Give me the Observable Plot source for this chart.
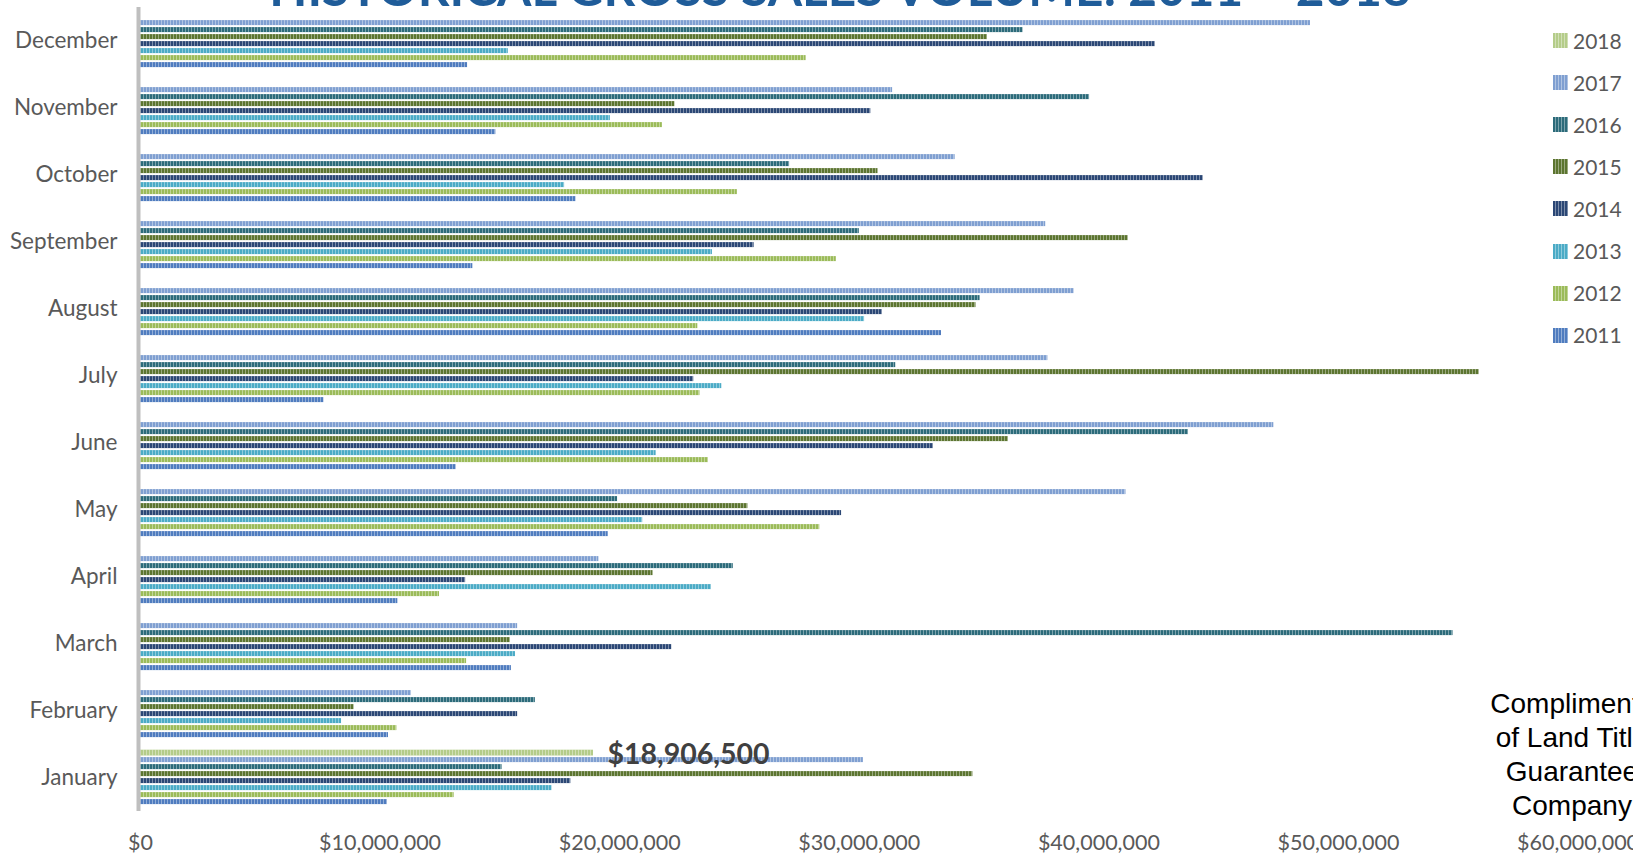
<!DOCTYPE html>
<html>
<head>
<meta charset="utf-8">
<script src="https://cdn.jsdelivr.net/npm/d3@7"></script>
<script src="https://cdn.jsdelivr.net/npm/@observablehq/plot@0.6"></script>
<style>
html, body { margin: 0; padding: 0; background: #fff; width: 1633px; height: 858px; overflow: hidden; }
#wrap { position: relative; width: 1633px; height: 858px; overflow: hidden; }
#chart { position: absolute; left: 0; top: 0; }
#title { position: absolute; left: 240px; width: 1200px; top: -37px; text-align: center; font: 700 49.5px Lato, sans-serif; line-height: 48px; color: #1f5c99; white-space: nowrap; }
#legend { position: absolute; left: 1553px; top: 0; font: 21px Lato, sans-serif; color: #595959; }
.li { position: absolute; left: 0; height: 24px; width: 90px; }
.sw { position: absolute; left: 0; top: 4.5px; width: 15px; height: 15px; }
.lt { position: absolute; left: 20px; top: 0; line-height: 24px; }
#credit { position: absolute; left: 1422px; width: 300px; top: 687px; text-align: center; font: 28px "Liberation Sans", Arial, sans-serif; line-height: 34px; color: #000; white-space: nowrap; }
</style>
</head>
<body>
<svg width="0" height="0" style="position:absolute">
  <defs>
    <pattern id="stripes" width="3" height="20" patternUnits="userSpaceOnUse">
      <rect x="2" y="0" width="1" height="20" fill="#ffffff" fill-opacity="0.38"></rect>
    </pattern>
  </defs>
</svg>
<div id="wrap">
  <div id="chart"></div>
  <div id="title">HISTORICAL GROSS SALES VOLUME: 2011 – 2018</div>
  <div id="legend"></div>
  <div id="credit">Compliments<br>of Land Title<br>Guarantee<br>Company</div>
</div>
<script>
// ---- data (Jan..Dec), US dollars ----
const months = ["January","February","March","April","May","June","July","August","September","October","November","December"];
const years = ["2011","2012","2013","2014","2015","2016","2017","2018"];
const colors = ["#4f7cbf","#9bbb59","#4babc6","#2b4775","#5c7530","#2c6b7a","#7f9fd1","#b4cc89"];

const v2011 = [10300000,10350000,15480000,10740000,19520000,13170000,7650000,33430000,13870000,18170000,14830000,13650000];
const v2012 = [13090000,10700000,13610000,12480000,28350000,23700000,23350000,23260000,29040000,24910000,21780000,27780000];
const v2013 = [17170000,8390000,15650000,23830000,20960000,21520000,24260000,30220000,23870000,17700000,19610000,15350000];
const v2014 = [17960000,15740000,22170000,13570000,29260000,33090000,23090000,30960000,25610000,44350000,30480000,42350000];
const v2015 = [34740000,8910000,15430000,21390000,25350000,36220000,55870000,34870000,41220000,30780000,22300000,35350000];
const v2016 = [15090000,16480000,54780000,24740000,19910000,43740000,31520000,35040000,30000000,27090000,39610000,36830000];
const v2017 = [30170000,11300000,15740000,19130000,41130000,47300000,37870000,38960000,37780000,34000000,31390000,48830000];
const v2018 = [18906500,null,null,null,null,null,null,null,null,null,null,null];

const xTicks = [0,10000000,20000000,30000000,40000000,50000000,60000000];
const annotationText = "$18,906,500";

const seriesList = [v2011,v2012,v2013,v2014,v2015,v2016,v2017,v2018];
const data = [];
seriesList.forEach((vals, k) => {
  vals.forEach((v, i) => {
    if (v != null) data.push({month: months[i], year: years[k], value: v});
  });
});
const main = data.filter(d => d.year !== "2018");
const latest = data.filter(d => d.year === "2018");

const fmt = d3.format(",");

const chart = Plot.plot({
  width: 1633,
  height: 858,
  marginLeft: 140,
  marginRight: 55.4,
  marginTop: 3.9,
  marginBottom: 43.8,
  style: {fontFamily: "Lato, sans-serif", fontSize: "21.5px", color: "#595959", background: "transparent", overflow: "visible"},
  x: {domain: [0, 60000000], ticks: xTicks, tickFormat: d => "$" + fmt(d), tickSize: 0, tickPadding: 23.4, label: null},
  y: {domain: years.slice().reverse(), axis: null, paddingInner: 0.25, paddingOuter: 0.72},
  fy: {domain: months.slice().reverse(), padding: 0, axis: "left", label: null, tickSize: 0, tickPadding: 23},
  color: {domain: years, range: colors},
  marks: [
    Plot.barX(main, {x: "value", y: "year", fy: "month", fill: "year"}),
    Plot.barX(main, {x: "value", y: "year", fy: "month", fill: "url(#stripes)"}),
    Plot.barX(latest, {x: "value", y: "year", fy: "month", fill: "year", insetTop: -0.4, insetBottom: -0.4}),
    Plot.barX(latest, {x: "value", y: "year", fy: "month", fill: "url(#stripes)", insetTop: -0.4, insetBottom: -0.4}),
    Plot.ruleX([0], {stroke: "#bfbfbf", strokeWidth: 4, dx: -2}),
    Plot.text(latest, {x: "value", y: "year", fy: "month", text: () => annotationText, textAnchor: "start", dx: 14, dy: 2, fontSize: 28.5, fontWeight: "bold", fill: "#404040"})
  ]
});
document.getElementById("chart").appendChild(chart);

// enlarge the month labels slightly
const fyTexts = chart.querySelectorAll('[aria-label="fy-axis tick label"] text, [aria-label="fy-axis"] text');
fyTexts.forEach(t => t.setAttribute("font-size", "22.5"));
fyTexts.forEach(t => { t.style.fontSize = "22.5px"; });

// legend
const legend = document.getElementById("legend");
years.slice().reverse().forEach((yr, i) => {
  const k = years.indexOf(yr);
  const item = document.createElement("div");
  item.className = "li";
  item.style.top = (40.5 + i * 42.1 - 12) + "px";
  const sw = document.createElement("div");
  sw.className = "sw";
  sw.style.background = `repeating-linear-gradient(90deg, ${colors[k]} 0px, ${colors[k]} 2px, rgba(255,255,255,0.38) 2px, rgba(255,255,255,0.38) 3px), ${colors[k]}`;
  sw.style.backgroundColor = colors[k];
  const lt = document.createElement("div");
  lt.className = "lt";
  lt.textContent = yr;
  item.appendChild(sw);
  item.appendChild(lt);
  legend.appendChild(item);
});
</script>
</body>
</html>
